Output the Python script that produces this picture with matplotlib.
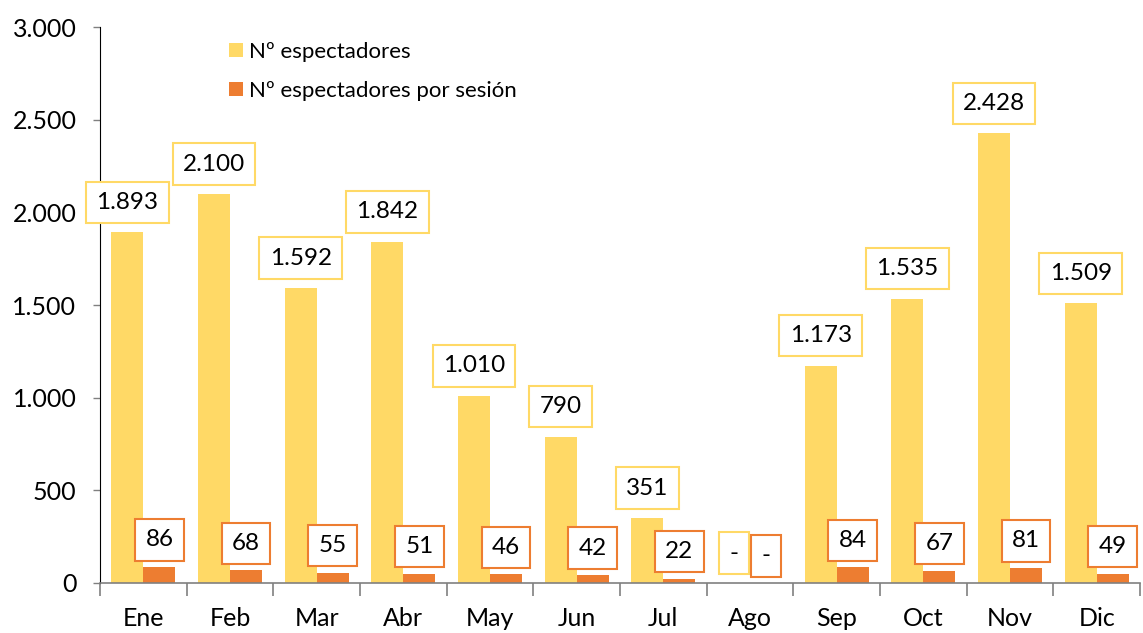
import numpy as np
import matplotlib.pyplot as plt
from matplotlib.ticker import FuncFormatter

meses = ["Ene", "Feb", "Mar", "Abr", "May", "Jun", "Jul", "Ago", "Sep", "Oct", "Nov", "Dic"]
espectadores = [1893, 2100, 1592, 1842, 1010, 790, 351, 0, 1173, 1535, 2428, 1509]
por_sesion = [86, 68, 55, 51, 46, 42, 22, 0, 84, 67, 81, 49]
sin_dato = ["Ago"]

AMARILLO = "#FFD966"
NARANJA = "#ED7D31"

plt.rcParams['font.family'] = ['Lato', 'DejaVu Sans']

def miles(v):
    return f"{v:,.0f}".replace(",", ".")

fig = plt.figure(figsize=(11.43, 6.33), dpi=100)
ax = fig.add_axes([0.0875, 0.079, 0.9099, 0.878])

x = np.arange(len(meses))
w = 0.37
b1 = ax.bar(x - w / 2, espectadores, w, color=AMARILLO, label="Nº espectadores")
b2 = ax.bar(x + w / 2, por_sesion, w, color=NARANJA, label="Nº espectadores por sesión")

for i, mes in enumerate(meses):
    t1 = "-" if mes in sin_dato else miles(espectadores[i])
    t2 = "-" if mes in sin_dato else miles(por_sesion[i])
    ax.annotate(t1, (x[i] - w / 2, espectadores[i]), xytext=(0, 14), textcoords="offset points",
                ha="center", va="bottom", fontsize=17.5,
                bbox=dict(boxstyle="square,pad=0.42", fc="white", ec=AMARILLO, lw=1.5))
    ax.annotate(t2, (x[i] + w / 2, por_sesion[i]), xytext=(0, 12), textcoords="offset points",
                ha="center", va="bottom", fontsize=17.5,
                bbox=dict(boxstyle="square,pad=0.42", fc="white", ec=NARANJA, lw=1.5))

ax.set_xlim(-0.5, len(meses) - 0.5)
ax.set_ylim(0, 3000)
ax.set_yticks(np.arange(0, 3001, 500))
ax.yaxis.set_major_formatter(FuncFormatter(lambda v, p: miles(v)))

ax.set_xticks(x)
ax.set_xticklabels(meses)
ax.set_xticks(np.arange(-0.5, len(meses), 1), minor=True)
ax.tick_params(axis="x", which="major", length=0, pad=17, labelsize=18)
ax.tick_params(axis="x", which="minor", length=9, width=1.2, color="#808080")
ax.tick_params(axis="y", length=5, width=1, color="#808080", labelsize=18, pad=12)

for s in ["top", "right"]:
    ax.spines[s].set_visible(False)
ax.spines["left"].set_color("black")
ax.spines["bottom"].set_color("#808080")
ax.spines["bottom"].set_linewidth(1.2)

ax.legend(loc="upper left", bbox_to_anchor=(0.105, 1.01), frameon=False, fontsize=16,
          handlelength=0.6, handleheight=0.6, handletextpad=0.3, labelspacing=0.85)

fig.savefig("out.png", dpi=100)
